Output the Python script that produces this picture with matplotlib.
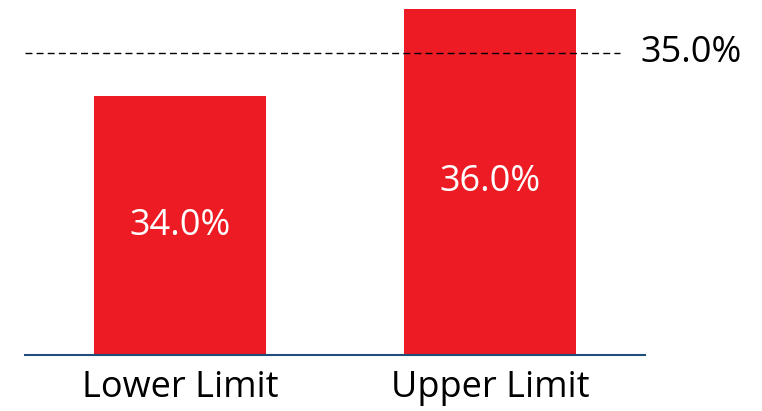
import matplotlib
matplotlib.use("Agg")
import matplotlib.pyplot as plt

# Data
categories = ["Lower Limit", "Upper Limit"]
values = [34.0, 36.0]
threshold = 35.0

plt.rcParams['font.family'] = ['Open Sans', 'DejaVu Sans']

BAR_RED = '#ED1C24'
BASE_BLUE = '#1F4E79'

fig = plt.figure(figsize=(7.62, 4.11), dpi=100)
ax = fig.add_axes([25 / 762, 56 / 411, 620 / 762, 355 / 411])

y_low, y_high = 28.1, 36.2
x = list(range(len(categories)))
ax.bar(x, values, width=0.556, color=BAR_RED, zorder=2)

# threshold line + label on the right
ax.axhline(threshold, xmin=0, xmax=0.96, color='black', linestyle=(0, (5, 3)),
           linewidth=1, zorder=3)
ax.text(0.992, threshold, f'{threshold:.1f}%', transform=ax.get_yaxis_transform(),
        ha='left', va='center', fontsize=26, color='black')

# value labels inside bars
for xi, v in zip(x, values):
    ax.text(xi, (y_low + v) / 2, f'{v:.1f}%', ha='center', va='center',
            fontsize=26, color='white', zorder=4)

ax.set_xlim(-0.5, 1.5)
ax.set_ylim(y_low, y_high)
ax.set_xticks(x)
ax.set_xticklabels(categories, fontsize=26)
ax.tick_params(axis='x', length=0, pad=11)
ax.set_yticks([])
for side in ['top', 'right', 'left']:
    ax.spines[side].set_visible(False)
ax.spines['bottom'].set_color(BASE_BLUE)
ax.spines['bottom'].set_linewidth(1.5)
ax.spines['bottom'].set_zorder(5)

fig.savefig('out.png', dpi=100)
